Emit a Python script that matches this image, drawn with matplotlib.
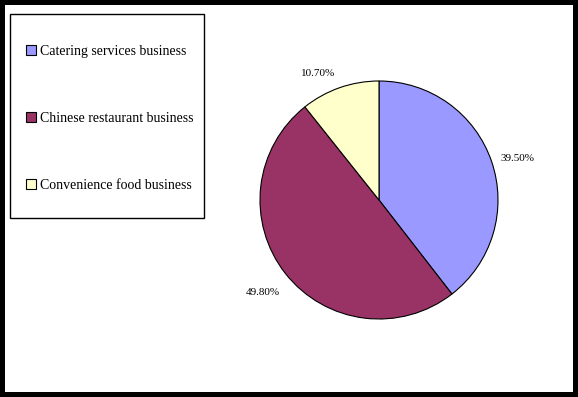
import matplotlib.pyplot as plt
from matplotlib.patches import Rectangle, Patch

# --- data ---
labels = ['Catering services business', 'Chinese restaurant business', 'Convenience food business']
shares = [39.5, 49.8, 10.7]
colors = ['#9999FF', '#993366', '#FFFFCC']
# where the percentage labels sit (in pie radii, relative to the centre)
label_xy = [(1.16, 0.35), (-0.98, -0.78), (-0.51, 1.06)]

W, H = 578, 397
fig = plt.figure(figsize=(W / 100, H / 100), dpi=100)
fig.patch.set_facecolor('black')
plt.rcParams['font.family'] = ['Liberation Serif', 'DejaVu Serif']

# white chart area inside the black frame
fig.add_artist(Rectangle((5 / W, 5 / H), 568 / W, 387 / H, transform=fig.transFigure,
                         facecolor='white', edgecolor='none', zorder=0))

# pie axes: center ~(379,200) px, radius ~119 px
r = 119
cx, cy = 379, 200
ax = fig.add_axes([(cx - r) / W, (H - cy - r) / H, 2 * r / W, 2 * r / H])
ax.set_facecolor('none')
wedges, texts, autotexts = ax.pie(shares, colors=colors, startangle=90, counterclock=False,
                                  autopct='%.2f%%', pctdistance=1.21,
                                  wedgeprops=dict(edgecolor='black', linewidth=0.8))
for t, xy in zip(autotexts, label_xy):
    t.set_fontsize(8)
    t.set_color('black')
    t.set_position(xy)
    t.set_clip_on(False)
ax.set_xlim(-1, 1)
ax.set_ylim(-1, 1)
ax.set_aspect('equal')
ax.axis('off')

# legend box
fig.add_artist(Rectangle((10 / W, (H - 218) / H), 194 / W, 204 / H, transform=fig.transFigure,
                         facecolor='white', edgecolor='black', linewidth=1, zorder=1))
handles = [Patch(facecolor=c, edgecolor='black', linewidth=0.8) for c in colors]
leg = fig.legend(handles, labels, loc='upper left', bbox_to_anchor=(26 / W, 1 - 45 / H),
                 frameon=False, fontsize=10, handlelength=0.75, handleheight=0.75,
                 handletextpad=0.25, labelspacing=3.88, borderpad=0, borderaxespad=0)
leg.set_zorder(2)

fig.savefig('out.png', dpi=100, facecolor=fig.get_facecolor())
